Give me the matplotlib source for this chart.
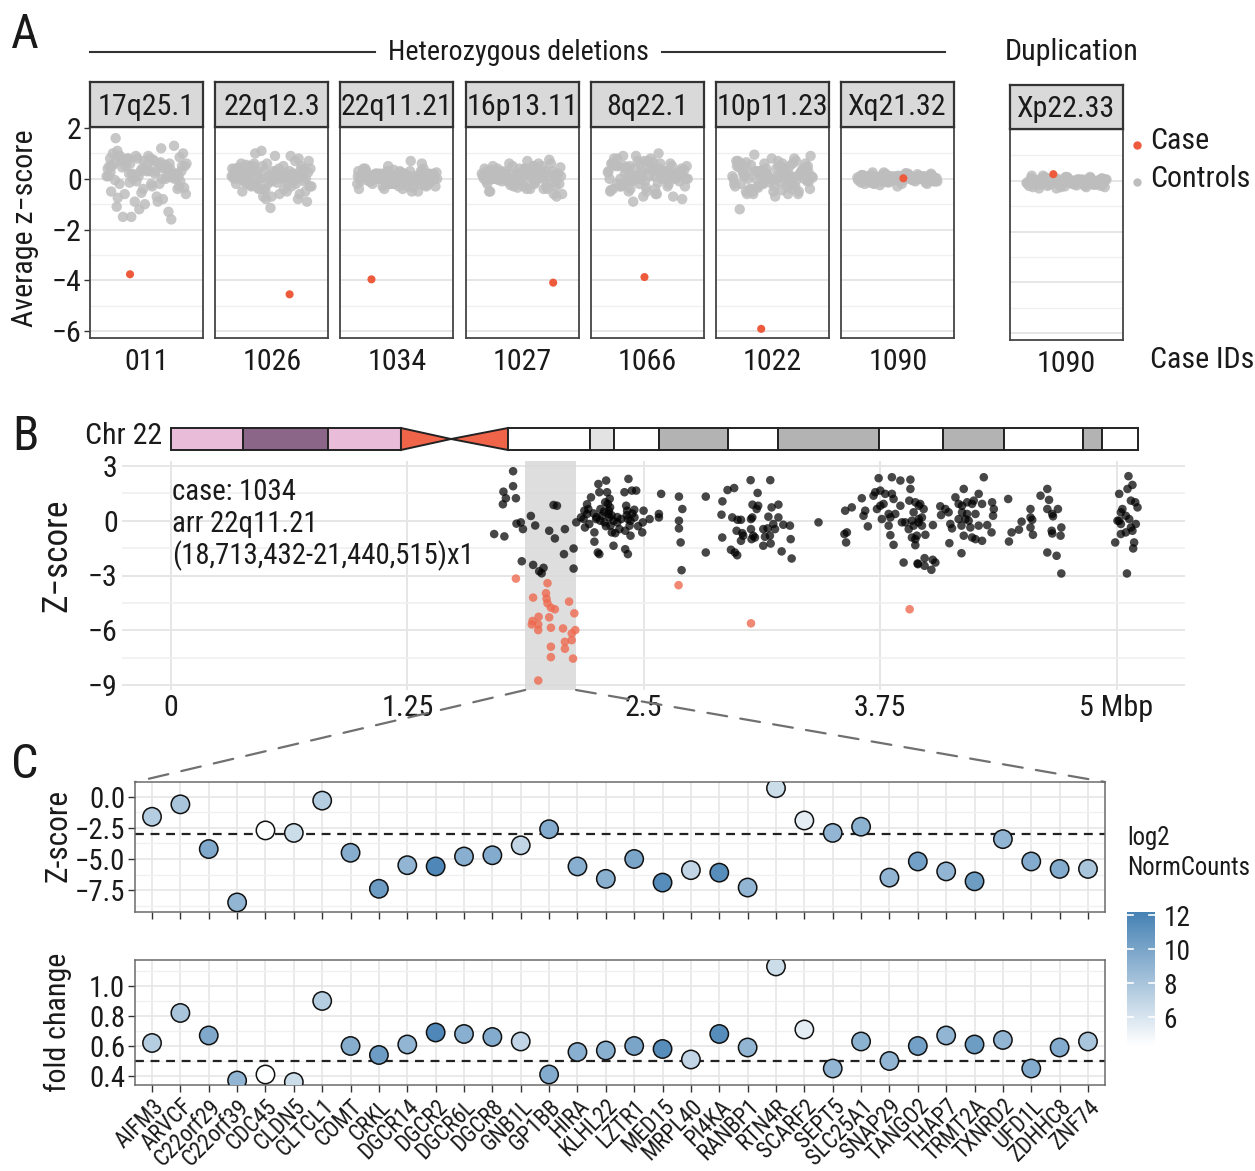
import numpy as np
import matplotlib
matplotlib.use('Agg')
import matplotlib.pyplot as plt
from matplotlib import font_manager
from matplotlib.colors import LinearSegmentedColormap, Normalize
from matplotlib.patches import Rectangle, Polygon, ConnectionPatch
from matplotlib.lines import Line2D

# ---------------- fonts ----------------
_ttf = font_manager.fontManager.ttflist
_names = {f.name for f in _ttf}
FONT, FS, STRETCH = 'Liberation Sans', 0.86, None
_found = False
for _n, _s in [('Liberation Sans Narrow', 1.0), ('Arial Narrow', 1.0), ('Nimbus Sans Narrow', 1.0),
               ('Roboto Condensed', 0.94), ('Noto Sans Condensed', 0.97), ('Open Sans Condensed', 0.92),
               ('PT Sans Narrow', 1.0), ('Fira Sans Condensed', 0.93)]:
    if _n in _names:
        FONT, FS, _found = _n, _s, True
        break
if not _found:
    for _fam, _s in [('Noto Sans', 0.97), ('Roboto', 0.94), ('Open Sans', 0.92), ('Inter', 0.9)]:
        for _f in _ttf:
            if (_f.name == _fam and _f.stretch in ('condensed', 'semi-condensed')
                    and _f.style == 'normal' and _f.weight in (400, 'normal', 'regular')):
                FONT, FS, STRETCH, _found = _fam, _s, _f.stretch, True
                break
        if _found:
            break
plt.rcParams['font.family'] = [FONT, 'DejaVu Sans']
if STRETCH:
    plt.rcParams['font.stretch'] = STRETCH
plt.rcParams['axes.unicode_minus'] = True

# ---------------- DATA: panel A ----------------
regions = ['17q25.1', '22q12.3', '22q11.21', '16p13.11', '8q22.1', '10p11.23', 'Xq21.32']
case_ids = ['011', '1026', '1034', '1027', '1066', '1022', '1090']
case_z = [-3.76, -4.55, -3.96, -4.09, -3.87, -5.91, 0.02]
case_jit = [0.825, 1.19, 0.73, 1.33, 0.97, 0.88, 1.06]
dup_region = 'Xp22.33'
dup_case_id = '1090'
dup_case_z = 0.26
dup_case_jit = 0.86

controls_17q25 = [0.8, 0.5, 0.2, -0.3, 0.9, 1.1, 0.4, -0.1, 0.6, 0.3, -0.6, 0.0, 0.7, 1.0, -0.8, 0.2, 0.5, -0.2, 0.9, 0.4,
                  -1.2, 0.1, 0.6, 0.8, -0.4, 0.3, 1.6, 0.0, -0.9, 0.5, 0.7, -1.5, 0.2, 0.4, -0.5, 1.2, 0.6, -0.1, 0.3, 0.9,
                  -1.3, 0.8, 0.1, -0.7, 0.5, 0.2, -1.0, 0.6, 0.4, 0.0, 1.0, -0.3, 0.7, -1.6, 0.3, 0.5, -0.2, 0.8, 0.1, 0.6,
                  -1.1, 0.4, 0.9, -0.6, 0.2, 0.7, 1.3, -0.4, 0.5, 0.0, -1.5, 0.3, 0.8, -0.2, 0.6, 0.1, 0.4, -0.9, 0.7, 0.2,
                  0.35, -0.05, 0.55, 0.15, -0.35, 0.75, 0.45, 0.05, -0.55, 0.25, 0.65, -0.15, 0.85, 0.35, -0.75, 0.1]
controls_22q12 = [0.1, -0.2, 0.3, 0.0, -0.4, 0.5, 0.2, -0.1, 0.6, -0.3, 0.0, 0.4, -0.6, 0.2, 0.8, -0.2, 0.1, -0.5, 0.3, 0.0,
                  0.9, -0.1, 0.2, -0.7, 0.4, 0.1, -0.3, 0.5, -1.15, 0.0, 0.3, -0.4, 0.7, 0.2, -0.2, 0.1, -0.8, 0.4, 0.0, 0.6,
                  -0.1, 0.3, -0.5, 0.2, 1.1, -0.3, 0.0, 0.5, -0.6, 0.1, 0.4, -0.2, 0.2, -0.9, 0.3, 0.0, 0.7, -0.4, 0.1, 0.5,
                  -0.1, 0.2, -0.7, 0.3, 0.9, 0.0, -0.3, 0.4, 0.1, -0.8, 0.6, -0.2, 0.2, 1.0, -0.5, 0.0, 0.3, -0.1, 0.5, 0.1,
                  0.15, -0.25, 0.35, -0.05, 0.45, 0.05, -0.35, 0.25, -0.15, 0.55, 0.0, -0.45, 0.3, 0.1, -0.2, 0.4]
controls_22q11 = [0.1, -0.1, 0.2, 0.0, -0.2, 0.3, 0.1, -0.3, 0.0, 0.2, -0.1, 0.4, 0.1, -0.4, 0.0, 0.2, -0.2, 0.3, 0.1, -0.1,
                  0.7, 0.0, 0.2, -0.3, 0.1, -0.5, 0.3, 0.0, -0.1, 0.2, 0.1, -0.2, 0.4, 0.0, -0.3, 0.1, 0.2, -0.1, 0.3, 0.0,
                  -0.4, 0.1, 0.2, -0.2, 0.0, 0.3, -0.1, 0.1, -0.3, 0.2, 0.0, 0.4, -0.2, 0.1, -0.5, 0.2, 0.0, 0.3, -0.1, 0.1,
                  0.5, -0.2, 0.0, 0.2, -0.3, 0.1, 0.3, -0.1, 0.0, 0.2, -0.4, 0.1, 0.6, -0.2, 0.0, 0.3, 0.1, -0.1, 0.2, 0.0,
                  0.05, -0.15, 0.25, -0.05, 0.15, -0.25, 0.35, 0.05, -0.35, 0.15, 0.0, 0.25, -0.1, 0.1, -0.2, 0.3]
controls_16p13 = [0.2, -0.1, 0.3, 0.0, -0.3, 0.4, 0.1, -0.4, 0.5, 0.2, -0.2, 0.0, 0.6, 0.1, -0.5, 0.3, -0.1, 0.2, 0.7, 0.0,
                  -0.3, 0.1, 0.4, -0.2, 0.2, -0.6, 0.3, 0.0, 0.5, -0.1, 0.1, -0.4, 0.2, 0.75, 0.0, -0.2, 0.3, 0.1, -0.7, 0.4,
                  0.0, 0.2, -0.3, 0.1, 0.5, -0.1, 0.3, 0.0, -0.5, 0.2, 0.6, -0.2, 0.1, 0.4, -0.4, 0.0, 0.2, -0.1, 0.3, 0.1,
                  -0.3, 0.5, 0.0, 0.2, -0.6, 0.1, 0.3, -0.2, 0.4, 0.0, 0.6, -0.1, 0.2, -0.4, 0.1, 0.3, -0.2, 0.0, 0.5, 0.2,
                  0.15, -0.15, 0.35, 0.05, -0.25, 0.45, 0.25, -0.05, 0.1, -0.35, 0.3, 0.0, 0.2, -0.1, 0.4, 0.1]
controls_8q22 = [0.3, -0.2, 0.5, 0.0, -0.5, 0.6, 0.2, -0.1, 0.4, 0.8, -0.3, 0.1, 0.5, -0.6, 0.2, 0.0, 0.7, -0.4, 0.3, 0.1,
                 -0.8, 0.4, 0.0, 0.6, -0.2, 0.3, 1.0, -0.1, 0.2, -0.5, 0.5, 0.0, 0.4, -0.3, 0.1, 0.9, -0.7, 0.2, 0.6, 0.0,
                 -0.4, 0.3, 0.1, 0.5, -0.2, 0.7, 0.0, -0.6, 0.4, 0.2, -0.1, 0.8, 0.3, -0.9, 0.1, 0.5, -0.3, 0.2, 0.6, 0.0,
                 0.4, -0.5, 0.1, 0.7, -0.2, 0.3, 0.9, 0.0, -0.4, 0.5, 0.2, -0.7, 0.6, 0.1, -0.1, 0.4, 0.8, -0.3, 0.2, 0.0,
                 0.25, -0.15, 0.45, 0.05, -0.35, 0.55, 0.15, -0.05, 0.35, 0.65, -0.25, 0.1, 0.3, -0.45, 0.2, 0.5]
controls_10p11 = [0.2, -0.3, 0.5, 0.0, -0.5, 0.7, 0.1, -0.2, 0.4, -0.6, 0.3, 0.0, 0.6, -0.4, 0.2, 0.9, -0.1, 0.3, -0.5, 0.1,
                  0.5, -0.3, 0.0, 0.4, -0.7, 0.2, 0.8, -0.2, 0.1, 0.6, -0.4, 0.3, 0.0, -1.2, 0.5, 0.2, -0.1, 0.7, -0.6, 0.1,
                  0.4, -0.3, 0.2, 0.95, 0.0, -0.5, 0.3, 0.6, -0.2, 0.1, 0.5, -0.4, 0.2, 0.0, 0.7, -0.6, 0.3, -0.1, 0.4, 0.1,
                  -0.3, 0.6, 0.0, 0.2, -0.5, 0.4, 0.8, -0.2, 0.1, 0.3, -0.4, 0.5, 0.0, -0.6, 0.2, 0.7, -0.1, 0.3, 0.6, -0.3,
                  0.15, -0.25, 0.35, 0.05, -0.45, 0.55, 0.25, -0.15, 0.45, 0.0, -0.35, 0.3, 0.1, 0.65, -0.05, 0.2]
controls_Xq21 = [0.05, -0.05, 0.1, 0.0, -0.1, 0.15, 0.05, -0.15, 0.0, 0.1, -0.05, 0.2, 0.05, -0.2, 0.0, 0.1, -0.1, 0.15, 0.05, -0.05,
                 0.25, 0.0, 0.1, -0.15, 0.05, -0.25, 0.15, 0.0, -0.05, 0.1, 0.05, -0.1, 0.2, 0.0, -0.15, 0.05, 0.1, -0.05, 0.15, 0.0,
                 -0.2, 0.05, 0.1, -0.1, 0.0, 0.15, -0.05, 0.05, -0.3, 0.1, 0.0, 0.2, -0.1, 0.05, -0.2, 0.1, 0.0, 0.15, -0.05, 0.05,
                 0.2, -0.1, 0.0, 0.1, -0.15, 0.05, 0.15, -0.05, 0.0, 0.1, -0.2, 0.05, 0.25, -0.1, 0.0, 0.15, 0.05, -0.05, 0.1, 0.0,
                 0.08, -0.08, 0.12, -0.02, 0.18, -0.12, 0.02, 0.22, -0.18, 0.08, -0.04, 0.14, 0.0, -0.1, 0.06, 0.1]
controls_Xp22 = [0.0, -0.1, 0.05, -0.05, -0.15, 0.1, 0.0, -0.2, -0.05, 0.05, -0.1, 0.15, 0.0, -0.25, -0.05, 0.05, -0.15, 0.1, 0.0, -0.1,
                 0.2, -0.05, 0.05, -0.2, 0.0, -0.3, 0.1, -0.05, -0.1, 0.05, 0.0, -0.15, 0.15, -0.05, -0.2, 0.0, 0.05, -0.1, 0.1, -0.05,
                 -0.25, 0.0, 0.05, -0.15, -0.05, 0.1, -0.1, 0.0, -0.3, 0.05, -0.05, 0.15, -0.15, 0.0, -0.25, 0.05, -0.05, 0.1, -0.1, 0.0,
                 0.15, -0.15, -0.05, 0.05, -0.2, 0.0, 0.1, -0.1, -0.05, 0.05, -0.25, 0.0, 0.2, -0.15, -0.05, 0.1, 0.0, -0.1, 0.05, -0.05,
                 0.02, -0.12, 0.08, -0.08, -0.18, 0.12, -0.02, -0.22, 0.04, -0.06, 0.1, -0.14, 0.0, -0.1, 0.06, -0.04]
controls_all = [controls_17q25, controls_22q12, controls_22q11, controls_16p13,
                controls_8q22, controls_10p11, controls_Xq21]

# ---------------- DATA: panel B ----------------
band_edges = [0.0, 0.381, 0.830, 1.216, 1.481, 1.782, 2.216, 2.343, 2.581, 2.946, 3.210, 3.744, 4.082, 4.405, 4.823, 4.923, 5.114]
band_types = ['gpos25', 'gpos75', 'gpos25', 'acen', 'acen', 'gneg', 'gpos25g', 'gneg', 'gpos50', 'gneg',
              'gpos50', 'gneg', 'gpos50', 'gneg', 'gpos50', 'gneg']
deletion_start, deletion_end = 1.873, 2.142
case_label = ['case: 1034', 'arr 22q11.21', '(18,713,432-21,440,515)x1']

pos_black = [1.809, 1.809, 1.758, 1.771, 1.755, 1.824, 1.827, 1.850, 1.861, 1.709, 1.763, 1.855, 1.903, 1.926,
             2.000, 2.030, 2.083, 2.023, 2.041, 2.078, 2.129, 2.129, 1.915, 1.970, 1.947, 1.960, 2.143,
             2.168, 2.186, 2.200, 2.212, 2.221, 2.239, 2.248, 2.260, 2.265, 2.271, 2.278, 2.292, 2.301, 2.306,
             2.310, 2.315, 2.318, 2.324, 2.331, 2.340, 2.349, 2.239, 2.257, 2.265, 2.296, 2.313, 2.322, 2.398,
             2.407, 2.412, 2.416, 2.419, 2.425, 2.402, 2.416, 2.437, 2.460, 2.451, 2.430, 2.402, 2.495, 2.499,
             2.492, 2.531, 2.580, 2.580, 2.592, 2.380, 2.371, 2.189, 2.207, 2.182,
             2.235, 2.250, 2.270, 2.290, 2.330, 2.340, 2.360, 2.410, 2.430, 2.440, 2.300, 2.320, 2.360, 2.450,
             2.470, 2.200,
             2.686, 2.704, 2.686, 2.686, 2.695, 2.700,
             2.828, 2.828, 2.916, 2.911, 2.915, 2.943, 2.978, 3.065, 3.169, 3.102, 3.075, 3.105, 3.097, 3.176,
             3.212, 2.968, 2.996, 3.014, 3.067, 3.074, 3.159, 3.212, 3.185, 3.238, 3.273, 2.991, 3.021, 3.067,
             3.132, 3.155, 3.194, 3.026, 3.079, 3.088, 3.141, 3.167, 3.014, 3.070, 3.132, 3.171, 3.277, 2.961,
             2.982, 2.994, 3.229, 3.282, 3.424,
             3.565, 3.600, 3.561, 3.574, 3.570, 3.653, 3.671, 3.662, 3.685, 3.715, 3.724, 3.742, 3.812, 3.857,
             3.910, 3.910, 3.904, 3.751, 3.777, 3.812, 3.821, 3.768, 3.733, 3.751, 3.795, 3.804, 3.830, 3.759,
             3.865, 3.883, 3.918, 3.927, 3.954, 3.795, 3.901, 3.927, 3.804, 3.821, 3.874, 3.950, 3.918, 3.936,
             3.857, 3.936, 3.954,
             3.944, 3.953, 3.971, 3.980, 3.962, 3.971, 3.989, 3.948, 3.985, 3.985, 4.021, 4.028, 4.042, 4.029, 3.936,
             4.068, 4.072, 4.095, 4.112, 4.148, 4.165, 4.183, 4.192, 4.210, 4.236, 4.245, 4.271, 4.298, 4.289,
             4.342, 4.351, 4.347, 4.116, 4.180, 4.121, 4.130, 4.165, 4.180, 4.192, 4.201, 4.218, 4.227, 4.236,
             4.254, 4.271, 4.289, 4.316, 4.339, 4.183, 4.210, 4.254,
             4.427, 4.431, 4.445, 4.484, 4.498, 4.545, 4.545, 4.554, 4.545, 4.558, 4.598, 4.634, 4.643, 4.634,
             4.660, 4.690, 4.664, 4.657, 4.660, 4.708, 4.704, 4.634, 4.683, 4.708,
             5.014, 5.063, 5.084, 5.058, 5.076, 5.099, 5.111, 5.031, 5.049, 5.023, 5.005, 5.023, 5.067, 5.102,
             5.076, 5.084, 5.049, 5.023, 4.993, 5.093, 5.088, 5.055, 5.014]
z_black = [2.71, 1.89, 1.59, 1.23, 0.90, 1.23, -0.16, -0.09, -0.46, -0.73, -0.86, -2.22, 0.26, -0.26,
           -0.55, -0.97, -0.46, 0.86, 0.82, -1.83, -1.52, -2.62, -2.42, -2.58, -2.77, -2.88, -0.09,
           0.18, 0.55, 0.37, -0.18, 1.28, -0.64, 0.09, 2.01, 1.56, 0.64, 0.27, -0.09, 2.20, 1.56,
           0.92, 0.55, 0.18, -0.27, -0.64, -1.37, -0.68, -1.15, -1.74, -1.83, 1.01, 0.37, 0.73, 1.56,
           0.82, 0.55, 0.09, 2.29, -0.27, -1.56, -1.83, 1.65, 1.65, 0.18, -0.82, -0.55, -0.09, 0.55,
           -0.64, 0.09, 0.37, 0.18, 1.47, 0.09, -0.46, -0.37, 0.64, 0.09,
           0.40, 0.20, 0.00, 0.50, 0.30, 0.00, 0.20, 0.30, 0.00, 0.40, -0.30, 1.20, -0.10, 0.60,
           -0.30, 0.90,
           1.32, 0.64, 0.00, -0.42, -1.19, -2.71,
           1.32, -1.74, 1.06, 0.33, -0.92, 1.68, 1.79, 2.22, 2.22, 1.52, 0.88, 0.82, 0.64, 0.73,
           0.88, 0.18, 0.05, 0.05, 0.09, 0.18, 0.22, 0.18, -0.18, -0.22, -0.27, -0.55, -0.68, -0.46,
           -0.46, -0.42, -0.46, -0.82, -0.82, -0.92, -0.88, -0.82, -1.10, -1.01, -1.37, -1.25, -1.01, -1.59,
           -1.74, -1.89, -1.68, -2.07, -0.09,
           0.55, 0.73, -0.73, -0.64, -1.19, 1.23, 0.55, 0.27, -0.31, 1.37, 1.56, 2.33, 2.38, 2.20,
           2.25, 1.74, 1.10, 1.65, 1.47, 1.47, 1.19, 0.92, 0.64, 0.82, 0.37, 0.18, 0.37, 0.09,
           -0.09, -0.09, 0.00, 0.46, 0.09, -0.27, -0.46, -0.27, -0.79, -1.32, -2.29, -2.38, -0.92, -1.01,
           0.82, 1.01, 0.82,
           -0.82, -0.09, 0.18, 0.64, 0.92, -0.27, -0.77, -2.34, -2.05, -2.47, -2.69, -2.14, -2.29, -0.24, -1.34,
           0.79, 0.31, 0.64, 0.46, 1.28, 0.92, 0.82, 1.74, 1.01, 0.92, 1.10, 1.47, 2.38, 0.92,
           1.01, 0.64, 0.27, -1.23, -1.78, -0.18, -0.42, 0.09, -0.27, -0.82, 0.09, 0.00, -0.37, -0.92,
           -1.01, -0.27, -1.10, -0.24, -0.64, 0.46, 0.37, 0.37,
           1.19, -1.14, -0.64, -0.49, -0.05, 0.64, 0.18, 0.05, -0.37, -0.77, 1.37, 1.74, 1.14, 0.64,
           0.37, 0.64, 0.24, -0.55, -0.70, -0.37, -0.82, -1.74, -1.92, -2.89,
           1.47, 2.44, 1.96, 1.74, 1.10, 1.01, 0.73, 0.64, 0.27, 0.46, 0.00, -0.18, 0.09, -0.18,
           -0.37, -0.55, -0.64, -0.73, -1.19, -1.19, -1.52, -2.89, 0.00]
pos_red = [1.824, 2.684, 3.067, 3.906,
           1.991, 1.915, 1.983, 1.986, 1.991, 2.009, 2.030, 2.105, 2.133, 1.944, 1.912, 1.908, 1.942,
           1.942, 2.000, 2.009, 2.073, 2.138, 2.119, 2.119, 2.083, 2.083, 2.009, 2.009, 2.126, 1.942]
z_red = [-3.17, -3.53, -5.62, -4.85,
         -3.42, -4.21, -3.97, -4.27, -4.52, -4.76, -4.85, -4.43, -5.07, -5.26, -5.49, -5.68, -5.68,
         -5.99, -5.29, -5.86, -5.90, -5.99, -6.17, -6.54, -6.63, -7.01, -6.90, -7.47, -7.55, -8.75]

# ---------------- DATA: panel C ----------------
genes = ['AIFM3', 'ARVCF', 'C22orf29', 'C22orf39', 'CDC45', 'CLDN5', 'CLTCL1', 'COMT', 'CRKL', 'DGCR14',
         'DGCR2', 'DGCR6L', 'DGCR8', 'GNB1L', 'GP1BB', 'HIRA', 'KLHL22', 'LZTR1', 'MED15', 'MRPL40',
         'PI4KA', 'RANBP1', 'RTN4R', 'SCARF2', 'SEPT5', 'SLC25A1', 'SNAP29', 'TANGO2', 'THAP7', 'TRMT2A',
         'TXNRD2', 'UFD1L', 'ZDHHC8', 'ZNF74']
gene_z = [-1.6, -0.6, -4.2, -8.5, -2.7, -2.9, -0.3, -4.5, -7.4, -5.5,
          -5.6, -4.8, -4.7, -3.9, -2.6, -5.6, -6.6, -5.0, -6.9, -5.9,
          -6.1, -7.3, 0.7, -1.9, -2.9, -2.4, -6.5, -5.2, -6.0, -6.8,
          -3.4, -5.2, -5.8, -5.8]
gene_fc = [0.62, 0.82, 0.67, 0.37, 0.41, 0.36, 0.90, 0.60, 0.54, 0.61,
           0.69, 0.68, 0.66, 0.63, 0.41, 0.56, 0.57, 0.60, 0.58, 0.51,
           0.68, 0.59, 1.13, 0.71, 0.45, 0.63, 0.50, 0.60, 0.67, 0.61,
           0.64, 0.45, 0.59, 0.63]
gene_log2 = [7.5, 8.0, 9.8, 9.0, 4.4, 6.5, 7.5, 9.5, 10.6, 9.0,
             11.8, 9.4, 9.6, 7.0, 9.6, 9.4, 9.3, 10.0, 11.5, 7.0,
             11.5, 9.0, 6.5, 5.5, 9.0, 9.2, 9.0, 10.3, 9.0, 10.5,
             9.0, 9.6, 9.6, 8.0]
z_threshold = -3
fc_threshold = 0.5

# ---------------- layout helpers ----------------
W, H = 1255, 1171
fig = plt.figure(figsize=(W / 100, H / 100), dpi=100)
fig.patch.set_facecolor('white')


def add_ax(l, t, r, b):
    return fig.add_axes([l / W, 1 - b / H, (r - l) / W, (b - t) / H])


def fx(px):
    return px / W


def fy(py):
    return 1 - py / H


TXT = '#1a1a1a'
BORDER = '#333333'
GRID_MAJ = '#E6E6E6'
GRID_MIN = '#F0F0F0'
RED_A = '#EE5A3C'
GRAY_A = '#BDBDBD'


def jitter(n, off, width=0.43):
    k = np.arange(n)
    frac = (k * 0.6180339887 + off) % 1.0
    return 1 + width * (2 * frac - 1)


yA = (-6.27, 2.04)


def facet(l, strip_t, strip_b, bottom, region, cid, ctrl, cz, cj, off, show_y):
    ax = add_ax(l, strip_b, l + 113, bottom)
    ax.set_xlim(0.4, 1.6)
    ax.set_ylim(*yA)
    for v in [-6, -4, -2, 0, 2]:
        ax.axhline(v, color=GRID_MAJ, lw=1.4, zorder=0)
    for v in [-5, -3, -1, 1]:
        ax.axhline(v, color=GRID_MIN, lw=1.0, zorder=0)
    ax.scatter(jitter(len(ctrl), off), ctrl, s=56, color=GRAY_A, alpha=0.85,
               edgecolors='none', zorder=2)
    ax.scatter([cj], [cz], s=34, color=RED_A, edgecolors='none', zorder=3)
    for sp in ax.spines.values():
        sp.set_color('#444444')
        sp.set_linewidth(1.3)
    ax.set_xticks([1])
    ax.set_xticklabels([cid], fontsize=23 * FS, color=TXT)
    ax.tick_params(axis='x', length=0, pad=7)
    if show_y:
        ax.set_yticks([2, 0, -2, -4, -6])
        ax.tick_params(axis='y', length=4, width=1.0, color='#333333',
                       labelsize=23 * FS, labelcolor=TXT, pad=2)
    else:
        ax.set_yticks([])
    sax = add_ax(l, strip_t, l + 113, strip_b)
    sax.set_xticks([])
    sax.set_yticks([])
    sax.set_facecolor('#D9D9D9')
    for sp in sax.spines.values():
        sp.set_color(BORDER)
        sp.set_linewidth(1.6)
    sax.text(0.5, 0.45, region, ha='center', va='center', fontsize=23 * FS,
             color=TXT, transform=sax.transAxes)
    return ax


# ---------------- Panel A ----------------
for i in range(7):
    l = 90 + i * 125.2
    facet(l, 82, 127, 338, regions[i], case_ids[i], controls_all[i],
          case_z[i], case_jit[i], 0.13 * i + 0.05, i == 0)
facet(1010, 85, 129, 340, dup_region, dup_case_id, controls_Xp22,
      dup_case_z, dup_case_jit, 0.71, False)

fig.text(fx(25), fy(35), 'A', fontsize=37 * FS, ha='center', va='center', color=TXT)
fig.text(fx(518), fy(52), 'Heterozygous deletions', fontsize=21.5 * FS,
         ha='center', va='center', color=TXT)
fig.add_artist(Line2D([fx(90), fx(375)], [fy(52), fy(52)], color=BORDER, lw=1.5))
fig.add_artist(Line2D([fx(662), fx(945)], [fy(52), fy(52)], color=BORDER, lw=1.5))
fig.text(fx(1072), fy(52), 'Duplication', fontsize=23 * FS, ha='center', va='center', color=TXT)
fig.text(fx(25), fy(228), 'Average z\u2212score', fontsize=23 * FS, rotation=90,
         ha='center', va='center', color=TXT)
fig.text(fx(1150), fy(360), 'Case IDs', fontsize=23 * FS, ha='left', va='center', color=TXT)
fig.add_artist(Line2D([fx(1137)], [fy(145)], marker='o', color=RED_A, ms=5, ls=''))
fig.text(fx(1150), fy(141), 'Case', fontsize=23 * FS, ha='left', va='center', color=TXT)
fig.add_artist(Line2D([fx(1137)], [fy(182)], marker='o', color=GRAY_A, ms=5, ls=''))
fig.text(fx(1150), fy(179), 'Controls', fontsize=23 * FS, ha='left', va='center', color=TXT)

# ---------------- Panel B ----------------
xB = (-0.259, 5.362)
yB = (-9.27, 3.27)
axB = add_ax(122, 461, 1185, 690)
axB.set_xlim(*xB)
axB.set_ylim(*yB)
for sp in axB.spines.values():
    sp.set_visible(False)
axB.set_xticks([0, 1.25, 2.5, 3.75, 5])
axB.set_xticklabels(['0', '1.25', '2.5', '3.75', '5 Mbp'])
axB.set_yticks([3, 0, -3, -6, -9])
axB.set_yticks([1.5, -1.5, -4.5, -7.5], minor=True)
axB.tick_params(which='both', length=0)
axB.tick_params(axis='both', labelsize=23 * FS, labelcolor=TXT, pad=3)
axB.grid(which='major', color=GRID_MAJ, lw=1.4)
axB.grid(which='minor', axis='y', color=GRID_MIN, lw=1.2)
axB.set_axisbelow(True)
axB.axvspan(deletion_start, deletion_end, color='#D9D9D9', alpha=0.85, zorder=1, lw=0)
axB.scatter(pos_black, z_black, s=38, color='black', alpha=0.72, edgecolors='none', zorder=3)
axB.scatter(pos_red, z_red, s=38, color='#EE6A50', alpha=0.8, edgecolors='none', zorder=3)
for k, line in enumerate(case_label):
    fig.text(fx(172), fy(492 + 32 * k), line, fontsize=22 * FS, ha='left',
             va='center', color=TXT)
fig.text(fx(57), fy(555), 'Z\u2212score', fontsize=27 * FS, rotation=90,
         ha='center', va='center', color=TXT)
fig.text(fx(25), fy(437), 'B', fontsize=37 * FS, ha='center', va='center', color=TXT)
fig.text(fx(162), fy(436), 'Chr 22', fontsize=23 * FS, ha='right', va='center', color=TXT)

# ideogram
axI = add_ax(122, 428, 1185, 450)
axI.set_xlim(*xB)
axI.set_ylim(0, 1)
axI.axis('off')
band_colors = {'gpos25': '#E9BCD9', 'gpos75': '#8C6689', 'gneg': 'white',
               'gpos25g': '#E3E3E3', 'gpos50': '#B3B3B3', 'acen': '#F06449'}
acen_done = False
for j, bt in enumerate(band_types):
    a, b = band_edges[j], band_edges[j + 1]
    if bt == 'acen':
        if not acen_done:
            verts = [(a, 1), (a, 0), (b, 0.5)]
            acen_done = True
        else:
            verts = [(b, 1), (b, 0), (a, 0.5)]
        axI.add_patch(Polygon(verts, closed=True, facecolor=band_colors[bt],
                              edgecolor='#222222', lw=1.4, clip_on=False))
    else:
        axI.add_patch(Rectangle((a, 0), b - a, 1, facecolor=band_colors[bt],
                                edgecolor='#222222', lw=1.4, clip_on=False))

# ---------------- Panel C ----------------
cmap = LinearSegmentedColormap.from_list('wsb', ['#FFFFFF', '#4682B4'])
vmin, vmax = 4.35, 12.2
norm = Normalize(vmin, vmax)
xg = np.arange(1, len(genes) + 1)


def style_c(ax):
    ax.set_xlim(0.4, len(genes) + 0.6)
    ax.set_xticks(xg)
    ax.grid(which='major', color=GRID_MAJ, lw=1.2)
    ax.grid(which='minor', axis='y', color=GRID_MIN, lw=1.0)
    ax.set_axisbelow(True)
    for sp in ax.spines.values():
        sp.set_color('#6b6b6b')
        sp.set_linewidth(1.1)
    ax.tick_params(which='major', length=5, width=1.0, color='#333333',
                   labelsize=22 * FS, labelcolor=TXT, pad=2)
    ax.tick_params(which='minor', length=0)


axC1 = add_ax(135, 782, 1105, 912)
style_c(axC1)
axC1.set_ylim(-9.27, 1.2)
axC1.set_yticks([0, -2.5, -5, -7.5])
axC1.set_yticklabels(['0.0', '\u22122.5', '\u22125.0', '\u22127.5'])
axC1.set_yticks([-1.25, -3.75, -6.25, -8.75], minor=True)
axC1.set_xticklabels([])
axC1.axhline(z_threshold, color='#222222', lw=1.6, ls=(0, (4, 3)), zorder=2)
axC1.scatter(xg, gene_z, s=175, c=gene_log2, cmap=cmap, norm=norm,
             edgecolors='#111111', linewidths=1.1, zorder=3)

axC2 = add_ax(135, 960, 1105, 1085)
style_c(axC2)
axC2.set_ylim(0.34, 1.173)
axC2.set_yticks([0.4, 0.6, 0.8, 1.0])
axC2.set_yticklabels(['0.4', '0.6', '0.8', '1.0'])
axC2.set_yticks([0.5, 0.7, 0.9, 1.1], minor=True)
axC2.set_xticklabels(genes, rotation=45, ha='right', va='top',
                     rotation_mode='anchor', fontsize=17.5 * FS)
axC2.tick_params(axis='x', pad=2)
axC2.axhline(fc_threshold, color='#222222', lw=1.6, ls=(0, (4, 3)), zorder=2)
axC2.scatter(xg, gene_fc, s=175, c=gene_log2, cmap=cmap, norm=norm,
             edgecolors='#111111', linewidths=1.1, zorder=3)

fig.text(fx(25), fy(765), 'C', fontsize=37 * FS, ha='center', va='center', color=TXT)
fig.text(fx(58), fy(835), 'Z-score', fontsize=24 * FS, rotation=90,
         ha='center', va='center', color=TXT)
fig.text(fx(58), fy(1022), 'fold change', fontsize=23 * FS, rotation=90,
         ha='center', va='center', color=TXT)

# colorbar
cax = add_ax(1127, 912, 1155, 1045)
grad = np.linspace(vmin, vmax, 256)[:, None]
cax.imshow(grad, aspect='auto', cmap=cmap, norm=norm, origin='lower',
           extent=[0, 1, vmin, vmax])
cax.set_xlim(0, 1)
cax.set_ylim(vmin, vmax)
for v in [6, 8, 10, 12]:
    cax.plot([0, 0.2], [v, v], color='white', lw=1.2)
    cax.plot([0.8, 1], [v, v], color='white', lw=1.2)
cax.set_xticks([])
cax.yaxis.tick_right()
cax.set_yticks([6, 8, 10, 12])
cax.tick_params(axis='y', length=0, labelsize=21 * FS, labelcolor=TXT, pad=6)
for sp in cax.spines.values():
    sp.set_visible(False)
fig.text(fx(1127), fy(838), 'log2', fontsize=19 * FS, ha='left', va='center', color=TXT)
fig.text(fx(1127), fy(868), 'NormCounts', fontsize=19 * FS, ha='left', va='center', color=TXT)

# connectors B -> C
for xb, xc in [(deletion_start, 0), (deletion_end, 1)]:
    con = ConnectionPatch(xyA=(xb, yB[0]), coordsA=axB.transData,
                          xyB=(xc, 1), coordsB=axC1.transAxes,
                          color='#707070', lw=1.6, ls=(0, (9, 6)), zorder=10)
    fig.add_artist(con)

fig.savefig('out.png', dpi=100, facecolor='white')
